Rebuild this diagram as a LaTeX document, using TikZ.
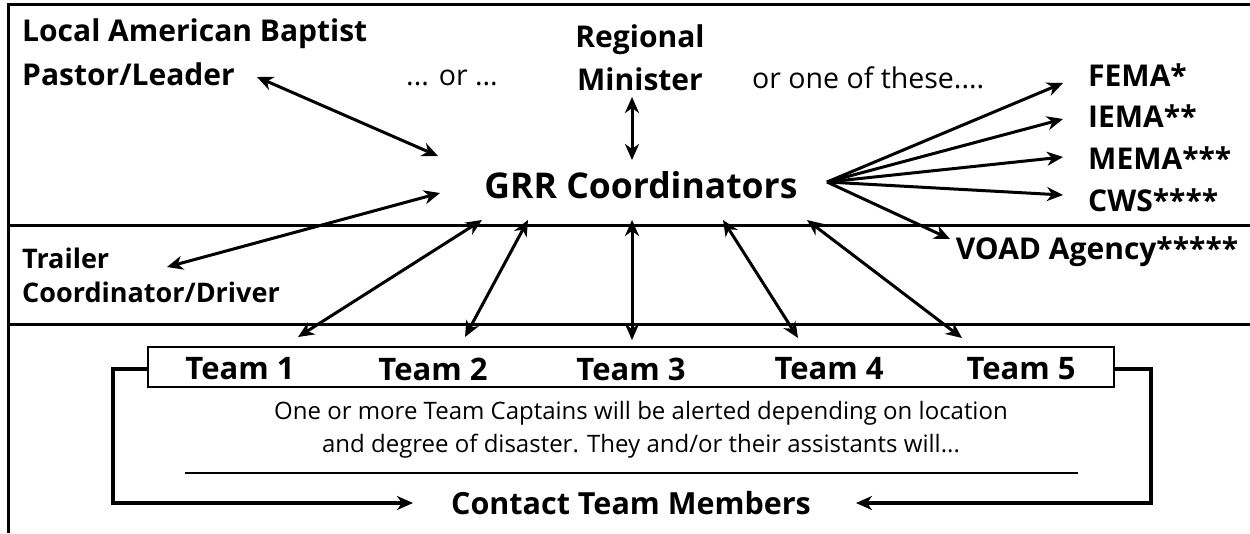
\documentclass[tikz,border=0pt]{standalone}
\usepackage{fontspec}
\setmainfont{Open Sans}
\usetikzlibrary{arrows.meta}
\begin{document}
\begin{tikzpicture}[x=1pt,y=-1pt,
  frame/.style={line width=3pt},
  tip/.tip={Stealth[length=16pt,width=14pt,inset=5pt]},
  conn/.style={line width=3pt,tip-tip},
  oneway/.style={line width=3pt,-tip},
  bigbold/.style={inner sep=0pt,font=\fontsize{30}{44}\selectfont\bfseries},
  teamlbl/.style={inner sep=0pt,font=\fontsize{31}{36}\selectfont\bfseries},
  plain/.style={inner sep=0pt,font=\fontsize{28.5}{34}\selectfont},
  small/.style={inner sep=0pt,font=\fontsize{24}{33}\selectfont,align=center}]
\useasboundingbox (0,0) rectangle (1250,533);
% frame and band lines
\draw[frame] (1250,4) -- (8,4) -- (8,533);
\draw[frame] (8,225) -- (1250,225);
\draw[frame] (8,324) -- (1250,324);

% top band
\node[bigbold,align=left,anchor=west] (local) at (22,52) {Local American Baptist\\Pastor/Leader};
\node[plain] (or1) at (452,78) {... or ...};
\node[bigbold,align=center,font=\fontsize{30}{43}\selectfont\bfseries] (regional) at (640,58) {Regional\\Minister};
\node[plain,anchor=west] (or2) at (752,78) {or one of these....};
\node[bigbold,anchor=west] (fema) at (1088,75) {FEMA*};
\node[bigbold,anchor=west] (iema) at (1088,116) {IEMA**};
\node[bigbold,anchor=west] (mema) at (1088,158) {MEMA***};
\node[bigbold,anchor=west] (cws) at (1088,200) {CWS****};
\node[inner sep=0pt,font=\fontsize{35.5}{40}\selectfont\bfseries] (grr) at (641,185) {GRR Coordinators};

% middle band
\node[inner sep=0pt,align=left,anchor=west,font=\fontsize{27}{34}\selectfont\bfseries] (trailer) at (22,275) {Trailer\\Coordinator/Driver};
\node[bigbold] (voad) at (1097,252) {VOAD Agency*****};

% teams
\draw[line width=2.4pt] (148,347) rectangle (1114,387);
\node[teamlbl] (t1) at (240,369) {Team 1};
\node[teamlbl] (t2) at (433,369) {Team 2};
\node[teamlbl] (t3) at (631,369) {Team 3};
\node[teamlbl] (t4) at (829,369) {Team 4};
\node[teamlbl] (t5) at (1021,369) {Team 5};
\node[small] (para) at (641,430) {One or more Team Captains will be alerted depending on location\\and degree of disaster. They and/or their assistants will...};
\node[teamlbl,font=\fontsize{30.5}{36}\selectfont\bfseries] (contact) at (631,503) {Contact Team Members};

% arrow end points
\coordinate (localE) at (257,77);
\coordinate (grrL1) at (438,156);
\coordinate (trailerE) at (167,267);
\coordinate (grrL2) at (440,193);
\coordinate (regE) at (632,97);
\coordinate (grrT) at (632,160);
\coordinate (hub) at (827,182);
\coordinate (femaE) at (1063,83);
\coordinate (iemaE) at (1063,119);
\coordinate (memaE) at (1063,157);
\coordinate (cwsE) at (1063,195);
\coordinate (voadE) at (950,239);
\coordinate (g1) at (482,220);
\coordinate (g2) at (528,220);
\coordinate (g3) at (632,220);
\coordinate (g4) at (723,220);
\coordinate (g5) at (807,220);
\coordinate (t1E) at (298,337);
\coordinate (t2E) at (465,337);
\coordinate (t3E) at (632,340);
\coordinate (t4E) at (798,338);
\coordinate (t5E) at (962,338);
\coordinate (boxL) at (148,369);
\coordinate (boxR) at (1114,369);
\coordinate (cL) at (413,503);
\coordinate (cR) at (856,503);
\coordinate (sepL) at (185,473);
\coordinate (sepR) at (1078,473);

\draw[conn] (localE) -- (grrL1);
\draw[conn] (trailerE) -- (grrL2);
\draw[conn] (regE) -- (grrT);
\draw[oneway] (hub) -- (femaE);
\draw[oneway] (hub) -- (iemaE);
\draw[oneway] (hub) -- (memaE);
\draw[oneway] (hub) -- (cwsE);
\draw[oneway] (hub) -- (voadE);
\draw[conn] (t1E) -- (g1);
\draw[conn] (t2E) -- (g2);
\draw[conn] (t3E) -- (g3);
\draw[conn] (t4E) -- (g4);
\draw[conn] (t5E) -- (g5);
\draw[oneway,line width=3.4pt] (boxL) -- (113,369) -- (113,503) -- (cL);
\draw[oneway,line width=3.4pt] (boxR) -- (1151,369) -- (1151,503) -- (cR);
\draw[line width=2.8pt] (sepL) -- (sepR);
\end{tikzpicture}
\end{document}
